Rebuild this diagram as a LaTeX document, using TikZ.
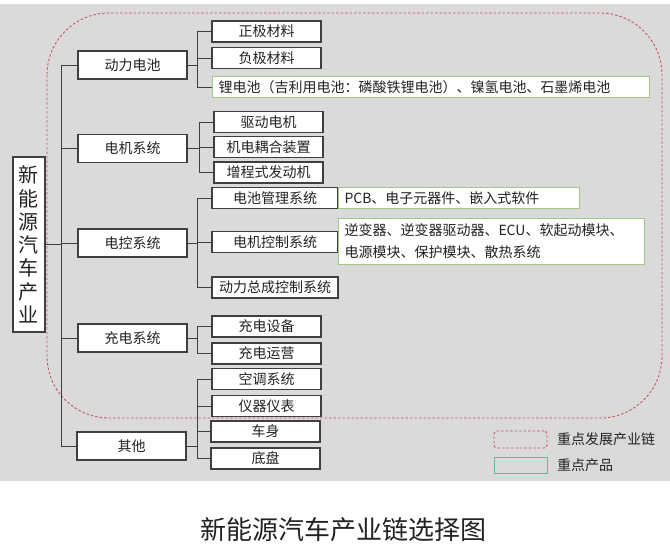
\documentclass[tikz,border=0pt]{standalone}
\usepackage{fontspec}
\setmainfont{Noto Sans CJK SC}
\usepackage{xcolor}
\usetikzlibrary{positioning}

\definecolor{bggray}{HTML}{DADADA}
\definecolor{chainred}{HTML}{C65660}
\definecolor{prodgreen}{HTML}{A3C586}
\definecolor{legendgreen}{HTML}{62BC90}
\definecolor{boxline}{HTML}{3F3F3F}
\definecolor{textdark}{HTML}{222222}

\begin{document}
\begin{tikzpicture}[x=1pt, y=-1pt,
    every node/.style={font=\fontsize{14}{16}\selectfont, text=textdark, inner sep=0pt},
    mainbox/.style={draw=boxline, fill=white, line width=1.1pt, minimum width=109pt, minimum height=28pt},
    subbox/.style={draw=boxline, fill=white, line width=1.1pt, minimum width=109pt, minimum height=21pt},
    keybox/.style={draw=prodgreen, fill=white, line width=1pt, anchor=west, minimum height=21pt, align=left, inner xsep=6pt},
    link/.style={draw=boxline, line width=0.8pt}]
            \useasboundingbox (0,0) rectangle (670,554);
            \fill[bggray] (0,4) rectangle (670,481);

            % Key industry chain (dashed frame)
            \draw[chainred, line width=0.9pt, dash pattern=on 2.5pt off 2pt, rounded corners=62pt] (47,13) rectangle (662,418);

            % Root
            \node[draw=boxline, fill=white, line width=1.1pt, minimum width=32pt, minimum height=175pt, align=center,
                  font=\fontsize{20}{23.3}\selectfont] (root) at (29,244.5) {新\\能\\源\\汽\\车\\产\\业};

            % Main branches
            \node[mainbox] (dl) at (132.5,65) {动力电池};
            \node[mainbox] (dj) at (132.5,148.5) {电机系统};
            \node[mainbox] (dk) at (132.5,243) {电控系统};
            \node[mainbox] (cd) at (132.5,338) {充电系统};
            \node[mainbox] (qt) at (131.5,446) {其他};

            % Power battery
            \node[subbox] (zj) at (266.5,31.5) {正极材料};
            \node[subbox] (fj) at (266.5,58) {负极材料};
            \node[keybox, text width=425pt] (ld) at (212,87) {锂电池（吉利用电池：磷酸铁锂电池）、镍氢电池、石墨烯电池};

            % Motor system
            \node[subbox] (qd) at (268.5,122) {驱动电机};
            \node[subbox] (jd) at (268.5,147) {机电耦合装置};
            \node[subbox] (zc) at (268.5,172.5) {增程式发动机};

            % Electronic control
            \node[subbox, minimum width=126pt] (dg) at (275,198) {电池管理系统};
            \node[keybox, text width=229pt] (pcb) at (338,198) {PCB、电子元器件、嵌入式软件};
            \node[subbox, minimum width=126pt] (dkz) at (275,242) {电机控制系统};
            \node[keybox, text width=294pt, minimum height=46pt, font=\fontsize{14}{22}\selectfont] (nb) at (338,241)
                {逆变器、逆变器驱动器、ECU、软起动模块、\\电源模块、保护模块、散热系统};
            \node[subbox, minimum width=126pt] (zck) at (275,287.5) {动力总成控制系统};

            % Charging
            \node[subbox] (cs) at (266.5,326.5) {充电设备};
            \node[subbox] (cy) at (266.5,353.5) {充电运营};

            % Others
            \node[subbox] (kt) at (266.5,379) {空调系统};
            \node[subbox] (yq) at (266.5,406) {仪器仪表};
            \node[subbox] (cs2) at (265.5,431.5) {车身};
            \node[subbox] (dp) at (265.5,458.5) {底盘};

            % Connectors
            \foreach \m in {dl,dj,dk,cd,qt}
                \draw[link] (root.east) -- ++(16,0) |- (\m.west);
            \foreach \s in {zj,fj,ld}
                \draw[link] (dl.east) -- ++(10,0) |- (\s.west);
            \foreach \s in {qd,jd,zc}
                \draw[link] (dj.east) -- ++(12,0) |- (\s.west);
            \foreach \s in {dg,dkz,zck}
                \draw[link] (dk.east) -- ++(10,0) |- (\s.west);
            \foreach \s in {cs,cy}
                \draw[link] (cd.east) -- ++(10,0) |- (\s.west);
            \foreach \s in {kt,yq,cs2,dp}
                \draw[link] (qt.east) -- ++(11,0) |- (\s.west);

            % Legend
            \node[draw=chainred, line width=0.9pt, dash pattern=on 2.5pt off 2pt, rounded corners=3pt,
                  minimum width=53pt, minimum height=17pt] (legchain) at (520.5,439.5) {};
            \node[anchor=west] (legchaintxt) at (557,439.5) {重点发展产业链};
            \node[draw=legendgreen, line width=1pt, minimum width=53pt, minimum height=16pt] (legprod) at (520.5,465) {};
            \node[anchor=west] (legprodtxt) at (557,465) {重点产品};

            % Caption
            \node[font=\fontsize{26}{30}\selectfont] (title) at (343.5,530) {新能源汽车产业链选择图};

        \end{tikzpicture}
\end{document}
